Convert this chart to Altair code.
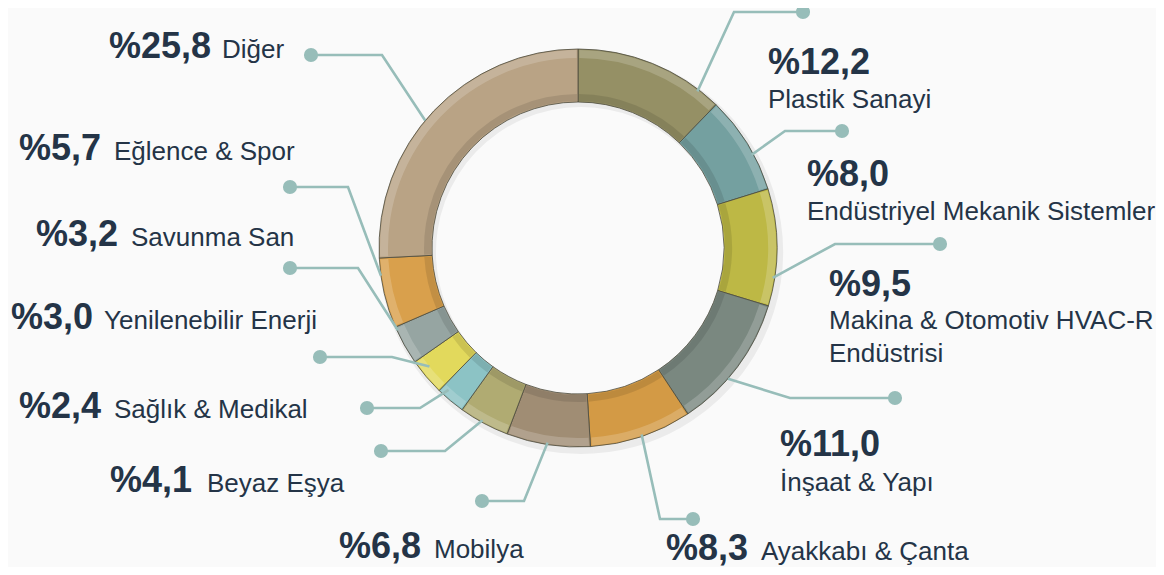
import math
import altair as alt
import pandas as pd

# ---- data ----
categories = ["Plastik Sanayi", "Endüstriyel Mekanik Sistemler", "Makina & Otomotiv HVAC-R Endüstrisi",
              "İnşaat & Yapı", "Ayakkabı & Çanta", "Mobilya", "Beyaz Eşya", "Sağlık & Medikal",
              "Yenilenebilir Enerji", "Savunma San", "Eğlence & Spor", "Diğer"]
values = [12.2, 8.0, 9.5, 11.0, 8.3, 6.8, 4.1, 2.4, 3.0, 3.2, 5.7, 25.8]
pct_labels = ["%12,2", "%8,0", "%9,5", "%11,0", "%8,3", "%6,8", "%4,1", "%2,4", "%3,0", "%3,2", "%5,7", "%25,8"]
name_lines = [["Plastik Sanayi"], ["Endüstriyel Mekanik Sistemler"], ["Makina & Otomotiv HVAC-R", "Endüstrisi"],
              ["İnşaat & Yapı"], ["Ayakkabı & Çanta"], ["Mobilya"], ["Beyaz Eşya"], ["Sağlık & Medikal"],
              ["Yenilenebilir Enerji"], ["Savunma San"], ["Eğlence & Spor"], ["Diğer"]]

# ---- style / layout ----
colors = ["#959065", "#74a0a0", "#bdb845", "#7a8880", "#d39a45", "#a08d74",
          "#b0ab72", "#8cc3c5", "#e2d95c", "#96a5a2", "#d9a04c", "#b9a385"]
CX, CY = 578, 248          # ring centre (page px)
R_OUT, R_IN = 199, 146
W, H = 1148, 559
leader_frac = [0.85, 0.62, 0.76, 0.61, 0.49, 0.51, 0.55, 0.78, 0.66, 0.9, 0.75, 0.46]
leader_r = [197, 197, 197, 199, 197, 197, 197, 192, 190, 198, 199, 199]
bend = [(734, 12), (785, 131), (835, 244), (790, 398), (660, 519), (524, 501),
        (445, 451), (420, 408), (392, 357), (358, 268), (348, 187), (382, 55)]
dot = [(803, 12), (842, 131), (940, 244), (895, 398), (693, 519), (482, 501),
       (381, 451), (367, 408), (320, 357), (290, 268), (290, 187), (311, 55)]
# label layout: (mode, x_num, y_num, x_name, y_name_first, line_gap)
label_pos = [
    ("stack", 768, 74, 768, 108, 33),
    ("stack", 807, 186, 807, 220, 33),
    ("stack", 829, 296, 829, 329, 33),
    ("stack", 780, 456, 780, 491, 33),
    ("inline", 748, 560, 761, 560, 0),
    ("inline", 421, 558, 434, 558, 0),
    ("inline", 192, 492, 207, 492, 0),
    ("inline", 101, 418, 114, 418, 0),
    ("inline", 93, 329, 104, 329, 0),
    ("inline", 118, 246, 131, 246, 0),
    ("inline", 101, 160, 114, 160, 0),
    ("inline", 211, 58, 222, 58, 0),
]
TEXT_COLOR = "#243447"
LINE_COLOR = "#97bdb9"
BG = "#fafafa"

# ---- tables ----
arc_df = pd.DataFrame({"cat": categories, "value": values, "idx": list(range(len(values)))})

total = sum(values)
cum = 0.0
line_rows, dot_rows, num_rows, name_rows = [], [], [], []
for i, v in enumerate(values):
    a0 = cum / total * 2 * math.pi
    a1 = (cum + v) / total * 2 * math.pi
    cum += v
    ang = a0 + (a1 - a0) * leader_frac[i]
    sx = CX + leader_r[i] * math.sin(ang)
    sy = CY - leader_r[i] * math.cos(ang)
    for k, (px, py) in enumerate([(sx, sy), bend[i], dot[i]]):
        line_rows.append({"cat": categories[i], "k": k, "x": px, "y": py})
    dot_rows.append({"cat": categories[i], "x": dot[i][0], "y": dot[i][1]})
    mode, xn, yn, xt, yt, gap = label_pos[i]
    num_rows.append({"label": pct_labels[i], "x": xn, "y": yn,
                     "align": "right" if mode == "inline" else "left"})
    for j, ln in enumerate(name_lines[i]):
        name_rows.append({"label": ln, "x": xt, "y": yt + j * gap})

line_df = pd.DataFrame(line_rows)
dot_df = pd.DataFrame(dot_rows)
num_df = pd.DataFrame(num_rows)
name_df = pd.DataFrame(name_rows)

xs = alt.Scale(domain=[8, 8 + W], range=[0, W])
ys = alt.Scale(domain=[8, 8 + H], range=[0, H])
X = lambda: alt.X("x:Q", scale=xs, axis=None)
Y = lambda: alt.Y("y:Q", scale=ys, axis=None)

theta = alt.Theta("value:Q", stack=True)
order = alt.Order("idx:Q")
cx_v, cy_v = alt.value(CX - 8), alt.value(CY - 8)

shadow = alt.Chart(arc_df).mark_arc(radius=R_OUT + 3, radius2=R_IN - 1, color="#000000", opacity=0.06).encode(
    theta=theta, order=order, x=alt.value(CX - 8 + 3), y=alt.value(CY - 8 + 4))

ring = alt.Chart(arc_df).mark_arc(radius=R_OUT, radius2=R_IN, stroke="#4b4a3c", strokeWidth=0.8).encode(
    theta=theta, order=order, x=cx_v, y=cy_v,
    color=alt.Color("cat:N", scale=alt.Scale(domain=categories, range=colors), legend=None, sort=None))

hl_outer = alt.Chart(arc_df).mark_arc(radius=R_OUT - 1, radius2=R_OUT - 9, color="#ffffff", opacity=0.18,
                                      padAngle=0.01).encode(theta=theta, order=order, x=cx_v, y=cy_v)
sh_inner = alt.Chart(arc_df).mark_arc(radius=R_IN + 8, radius2=R_IN + 1, color="#000000", opacity=0.10,
                                      padAngle=0.01).encode(theta=theta, order=order, x=cx_v, y=cy_v)

lines = alt.Chart(line_df).mark_line(color=LINE_COLOR, strokeWidth=2.6).encode(
    x=X(), y=Y(), detail="cat:N", order="k:Q")
dots = alt.Chart(dot_df).mark_circle(color=LINE_COLOR, opacity=1, size=200).encode(x=X(), y=Y())

nums_right = alt.Chart(num_df[num_df["align"] == "right"]).mark_text(
    align="right", baseline="alphabetic", font="Liberation Sans", fontWeight="bold", fontSize=36,
    color=TEXT_COLOR).encode(x=X(), y=Y(), text="label:N")
nums_left = alt.Chart(num_df[num_df["align"] == "left"]).mark_text(
    align="left", baseline="alphabetic", font="Liberation Sans", fontWeight="bold", fontSize=36,
    color=TEXT_COLOR).encode(x=X(), y=Y(), text="label:N")
names = alt.Chart(name_df).mark_text(
    align="left", baseline="alphabetic", font="Liberation Sans", fontSize=26,
    color=TEXT_COLOR).encode(x=X(), y=Y(), text="label:N")

chart = alt.layer(shadow, ring, hl_outer, sh_inner, lines, dots, nums_right, nums_left, names).properties(
    width=W, height=H, padding=0, autosize=alt.AutoSizeParams(type="none"), background=BG
).configure_view(stroke=None)

chart.save("out.html", embed_options={"renderer": "svg", "actions": False})
